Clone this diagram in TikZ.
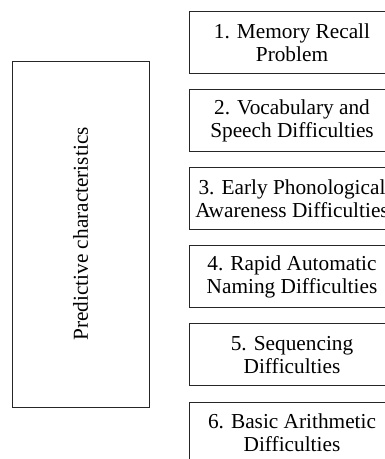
\documentclass[tikz,border=0pt]{standalone}
\usepackage{fontspec}
\setmainfont{Liberation Serif}
\begin{document}
\begin{tikzpicture}[x=1pt,y=-1pt,
  linecol/.style={draw=black!85, line width=0.9pt},
  itembox/.style={linecol, minimum width=206pt, minimum height=62pt, inner sep=0pt,
    align=center, font=\fontsize{21.3}{22.7}\selectfont},
  mainbox/.style={linecol, minimum width=346pt, minimum height=137pt, inner sep=0pt,
    rotate=90, font=\fontsize{21.3}{22.7}\selectfont}]
\useasboundingbox (0,0) rectangle (385,459);
\node[mainbox] (pc) at (80.5,234) {Predictive characteristics\hspace{6pt}};
\node[itembox] (b1) at (292,42.5) {1. Memory Recall\\Problem};
\node[itembox] (b2) at (292,120.6) {2. Vocabulary and\\Speech Difficulties};
\node[itembox] (b3) at (292,198.7) {3. Early Phonological\\Awareness Difficulties};
\node[itembox] (b4) at (292,276.8) {4. Rapid Automatic\\Naming Difficulties};
\node[itembox] (b5) at (292,354.9) {5. Sequencing\\Difficulties};
\node[itembox] (b6) at (292,433) {6. Basic Arithmetic\\Difficulties};
\end{tikzpicture}
\end{document}
